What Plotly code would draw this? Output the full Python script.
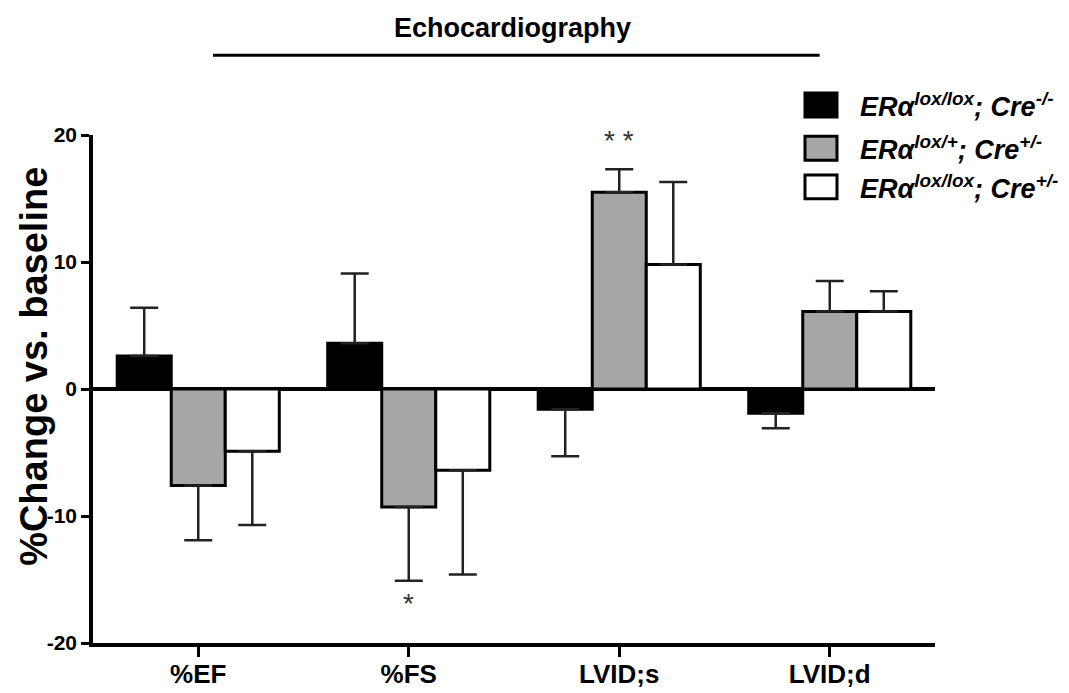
import plotly.graph_objects as go

categories = ["%EF", "%FS", "LVID;s", "LVID;d"]
series_names = [
    "ERα<sup>lox/lox</sup>; Cre<sup>-/-</sup>",
    "ERα<sup>lox/+</sup>; Cre<sup>+/-</sup>",
    "ERα<sup>lox/lox</sup>; Cre<sup>+/-</sup>",
]
vals_ctrl = [2.6, 3.6, -1.6, -1.9]
err_ctrl = [3.8, 5.5, 3.7, 1.2]
vals_het = [-7.6, -9.3, 15.5, 6.1]
err_het = [4.3, 5.8, 1.8, 2.4]
vals_ko = [-4.9, -6.4, 9.8, 6.1]
err_ko = [5.8, 8.2, 6.5, 1.6]
fills = ["#000000", "#a6a6a6", "#ffffff"]
y_ticks = [-20, -10, 0, 10, 20]
y_tick_text = ["-20", "-10", "0", "10", "20"]
sig_labels = [("%FS", -16.9, "*"), ("LVID;s", 19.6, "* *")]

FONT = "Liberation Sans, Arial, sans-serif"

fig = go.Figure()
for name, vals, errs, col in zip(series_names, [vals_ctrl, vals_het, vals_ko],
                                 [err_ctrl, err_het, err_ko], fills):
    plus = [e if v >= 0 else 0 for v, e in zip(vals, errs)]
    minus = [e if v < 0 else 0 for v, e in zip(vals, errs)]
    fig.add_trace(go.Bar(
        x=categories, y=vals, name=name,
        marker=dict(color=col, line=dict(color="black", width=3)),
        error_y=dict(type="data", symmetric=False, array=plus, arrayminus=minus,
                     color="#222222", thickness=2.5, width=14),
        showlegend=False,
    ))

for cat, yv, txt in sig_labels:
    fig.add_annotation(x=cat, y=yv, text=txt, showarrow=False, xanchor="center", yanchor="middle",
                       font=dict(family=FONT, size=28, color="#333333"))

# title and rule
fig.add_annotation(xref="paper", yref="paper", x=0.4988, y=1.211, xanchor="center", yanchor="middle",
                   text="<b>Echocardiography</b>",
                   showarrow=False, font=dict(family=FONT, size=27, color="black"))
fig.add_shape(type="line", xref="paper", yref="paper", x0=0.1425, x1=0.863, y0=1.157, y1=1.157,
              line=dict(color="black", width=3))

# y title
fig.add_annotation(xref="paper", yref="paper", x=-0.071, y=0.544, xanchor="center", yanchor="middle",
                   text="<b>%Change vs. baseline</b>",
                   textangle=-90, showarrow=False, font=dict(family=FONT, size=38, color="black"))

# legend
leg_y = [1.059, 0.974, 0.898]
for yc, name, col in zip(leg_y, series_names, fills):
    fig.add_shape(type="rect", xref="paper", yref="paper", x0=0.8456, x1=0.8836,
                  y0=yc - 0.0235, y1=yc + 0.0235, fillcolor=col, line=dict(color="black", width=3))
    fig.add_annotation(xref="paper", yref="paper", x=0.9086, y=yc, xanchor="left", yanchor="middle",
                       text="<b><i>" + name + "</i></b>", showarrow=False,
                       font=dict(family=FONT, size=27, color="black"))

fig.update_layout(
    width=1061, height=685,
    margin=dict(l=85, r=134, t=127, b=50),
    paper_bgcolor="white", plot_bgcolor="white",
    barmode="group", bargap=0.23, bargroupgap=0,
    font=dict(family=FONT, color="black"),
)
fig.update_xaxes(
    range=[-0.5, 3.5], showline=True, linecolor="black", linewidth=3.5, automargin=False,
    ticks="outside", ticklen=10, tickwidth=3, tickcolor="black", showgrid=False,
    ticklabelstandoff=-5,
    tickfont=dict(family=FONT, size=26, color="black", weight="bold"),
)
fig.update_yaxes(
    range=[-20, 20], tickvals=y_ticks, ticktext=y_tick_text, showline=True, linecolor="black",
    linewidth=3.5, automargin=False,
    ticks="outside", ticklen=8, tickwidth=3, tickcolor="black", showgrid=False,
    zeroline=True, zerolinecolor="black", zerolinewidth=4,
    tickfont=dict(family=FONT, size=21, color="black", weight="bold"),
)

fig.write_html("out.html")
